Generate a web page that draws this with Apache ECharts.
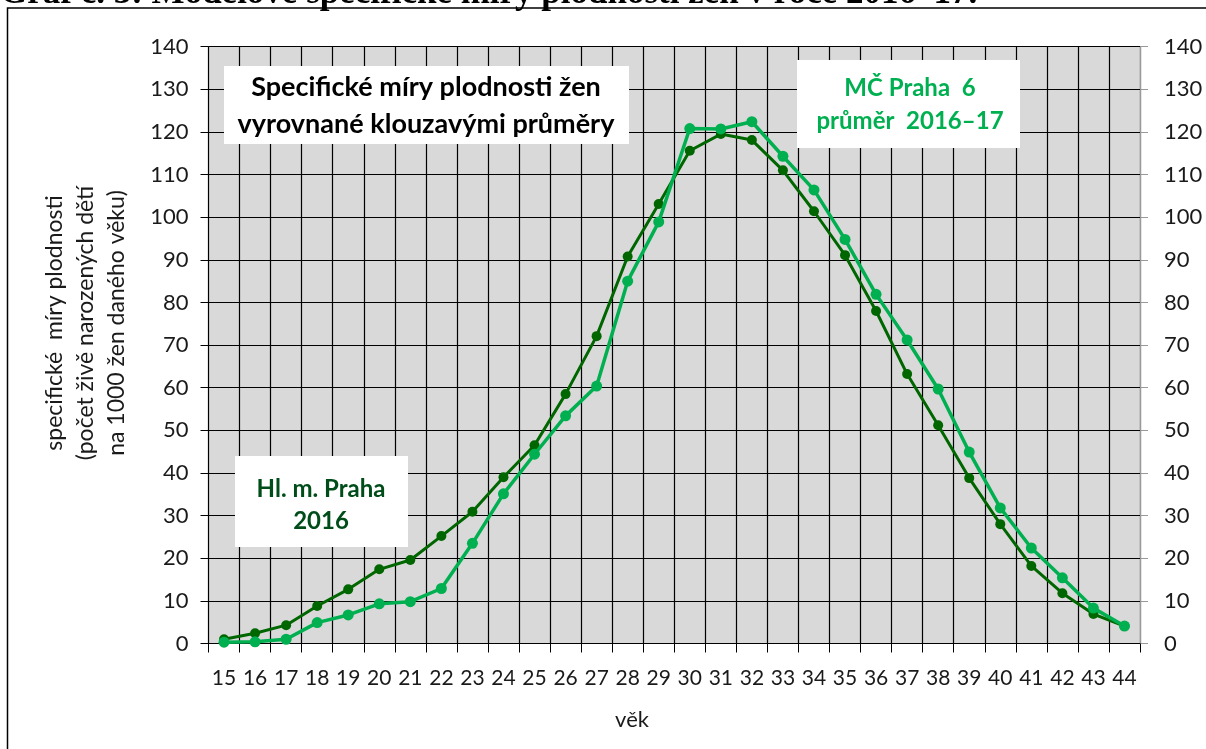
<!DOCTYPE html>
<html>
<head>
<meta charset="utf-8">
<script src="https://cdn.jsdelivr.net/npm/echarts@6/dist/echarts.min.js"></script>
<style>
html,body{margin:0;padding:0;background:#fff;}
#chart{width:1206px;height:749px;}
</style>
</head>
<body>
<div id="chart"></div>
<script>
const ages = ['15','16','17','18','19','20','21','22','23','24','25','26','27','28','29','30','31','32','33','34','35','36','37','38','39','40','41','42','43','44'];
const prahaValues = [1.0,2.4,4.3,8.8,12.7,17.4,19.6,25.2,30.9,39.0,46.5,58.5,72.1,90.8,103.1,115.6,119.5,118.1,111.0,101.4,91.1,78.0,63.2,51.2,38.8,28.0,18.2,11.8,6.9,4.1];
const praha6Values = [0.3,0.4,1.0,4.9,6.7,9.3,9.8,12.9,23.5,35.1,44.4,53.4,60.4,85.0,98.9,120.8,120.7,122.4,114.3,106.4,94.8,81.9,71.2,59.7,44.9,31.8,22.4,15.4,8.3,4.1];
const yTicks = {min:0, max:140, interval:10};

const FONT = 'Lato, "Open Sans", sans-serif';
const DARK = '#006600';
const LIGHT = '#00B050';

const chart = echarts.init(document.getElementById('chart'), null, {renderer:'canvas'});

function yAxisCfg(pos, lineColor, margin){
  return {
    type:'value', position:pos, min:yTicks.min, max:yTicks.max, interval:yTicks.interval,
    axisLine:{show:true, lineStyle:{color:lineColor, width:1}},
    axisTick:{show:true, inside:false, length:8, lineStyle:{color:lineColor}},
    axisLabel:{fontFamily:FONT, fontSize:22, color:'#1a1a1a', margin:margin},
    splitLine:{show: pos==='left', lineStyle:{color:'#000', width:1.2}}
  };
}

chart.setOption({
  animation:false,
  backgroundColor:'#fff',
  grid:{left:208.5, right:66, top:46.7, bottom:105.5, show:true, backgroundColor:'#D9D9D9', borderWidth:0},
  xAxis:{
    type:'category', data:ages, boundaryGap:true,
    axisLine:{show:true, lineStyle:{color:'#000', width:1.2}},
    axisTick:{show:true, length:9, alignWithLabel:false, interval:0, lineStyle:{color:'#000'}},
    axisLabel:{fontFamily:FONT, fontSize:21, color:'#1a1a1a', margin:24, interval:0},
    splitLine:{show:true, interval:0, lineStyle:{color:'#000', width:1.2}}
  },
  yAxis:[yAxisCfg('left','#000',20), yAxisCfg('right','#999',24)],
  series:[
    {name:'Hl. m. Praha 2016', type:'line', data:prahaValues, yAxisIndex:0,
     symbol:'circle', symbolSize:10, itemStyle:{color:DARK}, lineStyle:{color:DARK, width:3}, z:3},
    {name:'MČ Praha 6 průměr 2016–17', type:'line', data:praha6Values, yAxisIndex:0,
     symbol:'circle', symbolSize:11, itemStyle:{color:LIGHT}, lineStyle:{color:LIGHT, width:3.5}, z:4}
  ],
  graphic:[
    {type:'text', x:0, y:-6, style:{text:'Graf č. 3: Modelové specifické míry plodnosti žen v roce 2016–17.', font:'bold 35px "Liberation Serif", serif', fill:'#000', verticalAlign:'middle'}},
    {type:'rect', shape:{x:7.5, y:8, width:1300, height:800}, style:{fill:'none', stroke:'#000', lineWidth:1.5}, z:-10, silent:true},
    {type:'rect', shape:{x:224, y:66, width:405, height:78}, style:{fill:'#fff'}, z:50},
    {type:'text', x:426, y:106, z:51, style:{text:'Specifické míry plodnosti žen\nvyrovnané klouzavými průměry', font:'bold 27px '+FONT, fill:'#000', align:'center', verticalAlign:'middle', lineHeight:37}},
    {type:'rect', shape:{x:797, y:60, width:223, height:88}, style:{fill:'#fff'}, z:50},
    {type:'text', x:910, y:105, z:51, style:{text:'MČ Praha  6\nprůměr  2016–17', font:'bold 24px '+FONT, fill:LIGHT, align:'center', verticalAlign:'middle', lineHeight:33}},
    {type:'rect', shape:{x:235, y:456, width:173, height:91}, style:{fill:'#fff'}, z:50},
    {type:'text', x:321, y:505, z:51, style:{text:'Hl. m. Praha\n2016', font:'bold 24px '+FONT, fill:'#004d1a', align:'center', verticalAlign:'middle', lineHeight:32}},
    {type:'text', x:86, y:323, rotation:Math.PI/2, z:51, style:{text:'specifické  míry plodnosti\n(počet živě narozených dětí\nna 1000 žen daného věku)', font:'23px '+FONT, fill:'#1a1a1a', align:'center', verticalAlign:'middle', lineHeight:31}},
    {type:'text', x:632, y:720, z:51, style:{text:'věk', font:'22px '+FONT, fill:'#1a1a1a', align:'center', verticalAlign:'middle'}}
  ]
});
</script>
</body>
</html>
